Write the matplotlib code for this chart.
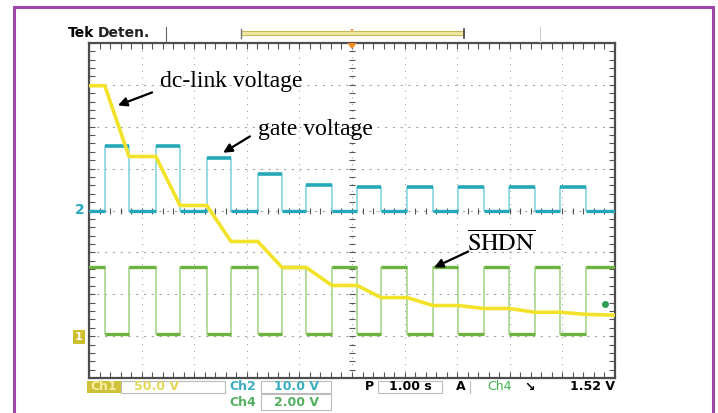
import numpy as np
import matplotlib
matplotlib.use('Agg')
import matplotlib.pyplot as plt
from matplotlib.patches import Rectangle, Polygon
from matplotlib.lines import Line2D

plt.rcParams['mathtext.fontset'] = 'stix'

# Switching instants of the PWM (divisions, 1 div = 1.00 s)
pulse_on = [0.30, 1.27, 2.24, 3.21, 4.13, 5.10, 6.05, 7.02, 7.99, 8.95]
pulse_off = [0.76, 1.73, 2.70, 3.67, 4.62, 5.55, 6.54, 7.51, 8.48, 9.45]

# Ch2 gate voltage (div above its zero marker)
gate_high = [1.53, 1.53, 1.26, 0.88, 0.62, 0.55, 0.55, 0.55, 0.55, 0.55]
gate_low = 0.0

# Ch4 SHDN levels (div)
shdn_high = -1.34
shdn_low = -2.96

# Ch1 dc-link voltage: level reached at the end of each pulse (div)
dc_start = 2.98
dc_levels = [1.29, 0.12, -0.74, -1.36, -1.79, -2.08, -2.27, -2.34, -2.43, -2.48]
dc_end = -2.50

YELLOW = '#f2e32a'
CYAN_THIN = '#86d6e2'
CYAN = '#25a8b8'
GREEN_THIN = '#a9d68e'
GREEN = '#6db33f'

W, H = 718, 413
fig = plt.figure(figsize=(W / 100, H / 100), dpi=100)
fig.patch.set_facecolor('white')

# pixel helpers for the figure-level decorations
def fx(px):
    return px / W

def fy(py):
    return 1 - py / H

# purple frame around the screenshot
fig.patches.append(Rectangle((fx(14), fy(440)), fx(699), fy(7) - fy(440),
                             transform=fig.transFigure, fill=False,
                             edgecolor='#a045aa', lw=2.2))

L, R, T, B = 89, 615, 43, 378
ax = fig.add_axes([fx(L), fy(B), fx(R - L), fy(T) - fy(B)])
ax.set_xlim(0, 10)
ax.set_ylim(-4, 4)
ax.set_xticks([])
ax.set_yticks([])
for s in ax.spines.values():
    s.set_color('#4d4d4d')
    s.set_linewidth(1.6)

# graticule
for xv in range(1, 10):
    ax.axvline(xv, color='#a5a5a5', lw=0.8, ls=(0, (1, 5)), zorder=1)
for yv in range(-3, 4):
    ax.axhline(yv, color='#a5a5a5', lw=0.8, ls=(0, (2, 5)), zorder=1)
minor_x = np.arange(0, 10.01, 0.2)
minor_y = np.arange(-4, 4.01, 0.2)
tick = dict(ls='none', color='#555555', mew=0.8, zorder=1)
ax.plot(minor_x, np.zeros_like(minor_x), marker='|', ms=5, **tick)
ax.plot(np.full_like(minor_y, 5), minor_y, marker='_', ms=5, **tick)
# border ticks pointing into the screen
ax.plot(minor_x, np.full_like(minor_x, 4), marker=3, ms=4, clip_on=False, **tick)
ax.plot(minor_x, np.full_like(minor_x, -4), marker=2, ms=4, clip_on=False, **tick)
ax.plot(np.zeros_like(minor_y), minor_y, marker=1, ms=4, clip_on=False, **tick)
ax.plot(np.full_like(minor_y, 10), minor_y, marker=0, ms=4, clip_on=False, **tick)

# build traces
gx, gy = [0], [gate_low]
sx, sy = [0], [shdn_high]
dx, dy = [0], [dc_start]
prev = dc_start
for on, off, h, lev in zip(pulse_on, pulse_off, gate_high, dc_levels):
    gx += [on, on, off, off]
    gy += [gate_low, h, h, gate_low]
    sx += [on, on, off, off]
    sy += [shdn_high, shdn_low, shdn_low, shdn_high]
    dx += [on, off]
    dy += [prev, lev]
    prev = lev
gx.append(10); gy.append(gate_low)
sx.append(10); sy.append(shdn_high)
dx.append(10); dy.append(dc_end)

n = len(pulse_on)
ax.plot(gx, gy, color=CYAN_THIN, lw=1.2, zorder=3)
ax.plot(sx, sy, color=GREEN_THIN, lw=1.2, zorder=3)
ax.hlines(gate_high, pulse_on, pulse_off, color=CYAN, lw=2.6, zorder=4)
ax.hlines([shdn_low] * n, pulse_on, pulse_off, color=GREEN, lw=2.4, zorder=4)
gaps_start = [0] + pulse_off
gaps_end = pulse_on + [10]
ax.hlines([gate_low] * (n + 1), gaps_start, gaps_end, color=CYAN, lw=2.4, zorder=4)
ax.hlines([shdn_high] * (n + 1), gaps_start, gaps_end, color=GREEN, lw=2.4, zorder=4)
ax.plot(dx, dy, color=YELLOW, lw=2.6, zorder=5, solid_joinstyle='round')
ax.plot([9.81], [-2.24], 'o', color='#2e9e55', ms=4, zorder=6)

# annotations
ann_font = dict(family='Liberation Serif', fontsize=17, color='black')
arrow = dict(arrowstyle='-|>', color='black', lw=1.6, mutation_scale=13,
             shrinkA=0, shrinkB=0)
ax.annotate('', xy=(0.55, 2.51), xytext=(1.20, 2.82), arrowprops=arrow, zorder=7)
ax.text(1.35, 3.08, 'dc-link voltage', va='center', ha='left', **ann_font, zorder=7)
ax.annotate('', xy=(2.55, 1.38), xytext=(3.06, 1.77), arrowprops=arrow, zorder=7)
ax.text(3.21, 1.93, 'gate voltage', va='center', ha='left', **ann_font, zorder=7)
ax.annotate('', xy=(6.56, -1.36), xytext=(7.21, -0.98), arrowprops=arrow, zorder=7)
ax.text(7.18, -0.80, r'$\overline{\mathrm{SHDN}}$', va='center', ha='left',
        fontsize=17.5, color='black', zorder=7)

# channel ground markers
fig.text(fx(80), fy(210), '2', color=CYAN, fontsize=10, fontweight='bold',
         ha='center', va='center', family='DejaVu Sans')
fig.text(fx(79), fy(337), '1', color='white', fontsize=8, fontweight='bold',
         ha='center', va='center', family='DejaVu Sans',
         bbox=dict(boxstyle='square,pad=0.15', fc='#cdbf2e', ec='none'))

# header
hdr = dict(family='DejaVu Sans', fontsize=10, fontweight='bold', va='center')
fig.text(fx(68), fy(33), 'Tek', color='black', ha='left', **hdr)
fig.text(fx(98), fy(33), 'Deten.', color='#222222', ha='left', **hdr)
fig.add_artist(Line2D([fx(166), fx(166)], [fy(27), fy(42)], color='#666666', lw=0.8))
fig.add_artist(Line2D([fx(540), fx(540)], [fy(27), fy(42)], color='#cccccc', lw=0.8))
fig.patches.append(Rectangle((fx(241), fy(35)), fx(464 - 241), fy(31) - fy(35),
                             transform=fig.transFigure, fc='#f2e9a2',
                             ec='#c8b85a', lw=0.8))
fig.add_artist(Line2D([fx(241), fx(241)], [fy(29), fy(38)], color='#777777', lw=1))
fig.add_artist(Line2D([fx(464), fx(464)], [fy(29), fy(38)], color='#444444', lw=1.2))
fig.patches.append(Polygon([[fx(347), fy(43)], [fx(357), fy(43)], [fx(352), fy(49)]],
                           closed=True, transform=fig.transFigure,
                           fc='#f08a24', ec='none', zorder=10))
fig.patches.append(Polygon([[fx(350), fy(29)], [fx(354), fy(29)], [fx(352), fy(31)]],
                           closed=True, transform=fig.transFigure,
                           fc='#f08a24', ec='none'))

# bottom readout
ro = dict(family='DejaVu Sans', fontsize=9, fontweight='bold', va='center')
fig.patches.append(Rectangle((fx(87), fy(393)), fx(34), fy(381) - fy(393),
                             transform=fig.transFigure, fc='#cfc23a', ec='none'))
fig.text(fx(104), fy(387), 'Ch1', color='#f4eda0', ha='center', **ro)
for x0, x1, y0, y1 in [(121, 225, 381, 393), (261, 331, 381, 393),
                       (261, 331, 394, 410), (378, 442, 381, 393)]:
    fig.patches.append(Rectangle((fx(x0), fy(y1)), fx(x1 - x0), fy(y0) - fy(y1),
                                 transform=fig.transFigure, fill=False,
                                 ec='#bbbbbb', lw=0.8))
fig.text(fx(157), fy(387), '50.0 V', color='#e3d85a', ha='center', **ro)
fig.text(fx(243), fy(387), 'Ch2', color='#3aaec0', ha='center', **ro)
fig.text(fx(296), fy(387), '10.0 V', color='#3aaec0', ha='center', **ro)
fig.text(fx(243), fy(403), 'Ch4', color='#52b060', ha='center', **ro)
fig.text(fx(296), fy(403), '2.00 V', color='#52b060', ha='center', **ro)
fig.text(fx(369), fy(387), 'P', color='black', ha='center', **ro)
fig.text(fx(410), fy(387), '1.00 s', color='black', ha='center', **ro)
fig.text(fx(461), fy(387), 'A', color='black', ha='center', **ro)
fig.add_artist(Line2D([fx(470), fx(470)], [fy(381), fy(393)], color='#bbbbbb', lw=0.8))
fig.text(fx(500), fy(387), 'Ch4', color='#3fb04e', ha='center',
         family='DejaVu Sans', fontsize=9, va='center')
fig.text(fx(530), fy(387), '\u2198', color='black', ha='center', **ro)
fig.text(fx(615), fy(387), '1.52 V', color='black', ha='right', **ro)

fig.savefig('out.png', dpi=100)
